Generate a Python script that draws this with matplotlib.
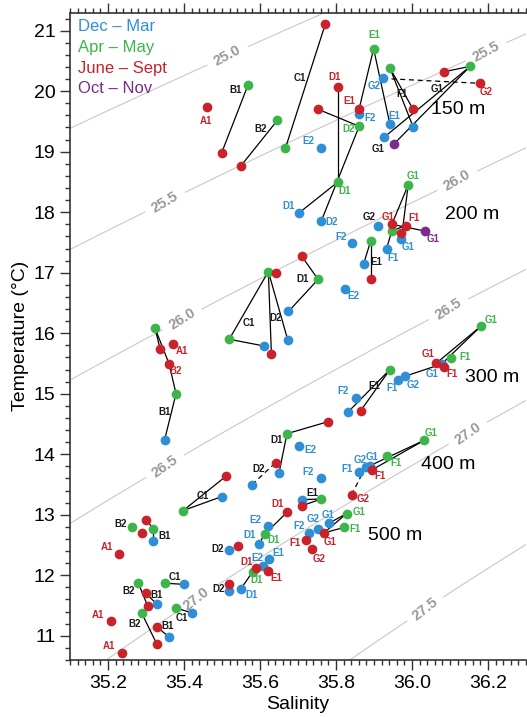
import numpy as np
import matplotlib
matplotlib.use("Agg")
from matplotlib import pyplot as plt
from matplotlib.ticker import MultipleLocator

plt.rcParams['font.family'] = ['Liberation Sans', 'DejaVu Sans']

# ---- data: Dec - Mar (blue)
dm_id = ["E2_150", "F2_150", "E1_150", "G2_150", "F1_150", "G1_150",
         "D1_200", "D2_200", "G2_200", "G1_200", "F1_200", "F2_200", "E1_200",
         "D1_200b", "E2_200", "D2_200b", "C1_200",
         "B1_300", "G1_300", "G2_300", "F1_300", "E1_300", "F2_300", "D1_300",
         "D2_300", "E2_300",
         "C1_400", "F2_400", "E1_400", "F1_400", "G2_400", "G1_400", "B1_400",
         "E2_500", "D1_500", "D2_500", "F2_500", "G2_500", "G1_500", "E1_500b",
         "E2_500b", "D1_500b", "D2_500b", "C1_500", "B1_500", "C1_500b", "B1_500b"]
dm_S = [35.761, 35.861, 35.942, 35.923, 36.003, 35.927,
        35.703, 35.761, 35.910, 35.972, 35.933, 35.841, 35.873,
        35.675, 35.823, 35.673, 35.610,
        35.349, 36.078, 35.982, 35.964, 35.832, 35.852, 35.650,
        35.579, 35.702,
        35.499, 35.761, 35.710, 35.861, 35.878, 35.889, 35.319,
        35.622, 35.597, 35.519, 35.729, 35.753, 35.781, 35.623,
        35.609, 35.550, 35.519, 35.399, 35.329, 35.420, 35.361]
dm_T = [19.06, 19.63, 19.45, 20.21, 19.41, 19.24,
        17.99, 17.85, 17.78, 17.56, 17.40, 17.49, 17.15,
        16.36, 16.73, 15.89, 15.79,
        14.24, 15.49, 15.29, 15.22, 14.70, 14.93, 13.69,
        13.50, 14.14,
        13.30, 13.61, 13.25, 13.71, 13.79, 13.81, 12.56,
        12.81, 12.51, 12.42, 12.70, 12.77, 12.86, 12.275,
        12.16, 11.78, 11.74, 11.85, 11.52, 11.38, 10.98]

# ---- data: Apr - May (green)
am_id = ["B1_150", "B2_150", "C1_150", "E1_150", "D2_150", "F1_150", "G1_150",
         "D1_200", "G1_200", "F1_200", "E1_200", "D1_200b", "CD_200", "C1_200",
         "A1_300", "B1_300", "G1_300", "F1_300", "E1_300", "D1_300",
         "C1_400", "E1_400", "G1_400", "F1_400", "B2_400", "B1_400",
         "D1_500", "G1_500", "F1_500", "D1_500b", "C1_500", "B2_500",
         "C1_500b", "B2_500b"]
am_S = [35.569, 35.646, 35.667, 35.899, 35.861, 35.942, 36.153,
        35.805, 35.990, 35.947, 35.891, 35.753, 35.622, 35.519,
        35.324, 35.379, 36.182, 36.102, 35.942, 35.671,
        35.398, 35.761, 36.032, 35.933, 35.263, 35.319,
        35.612, 35.828, 35.821, 35.581, 35.349, 35.279,
        35.379, 35.289]
am_T = [20.11, 19.52, 19.06, 20.70, 19.42, 20.38, 20.41,
        18.50, 18.45, 17.69, 17.52, 16.89, 17.02, 15.90,
        16.08, 15.00, 16.12, 15.585, 15.40, 14.34,
        13.07, 13.26, 14.23, 13.97, 12.80, 12.77,
        12.68, 13.02, 12.79, 12.06, 11.87, 11.88,
        11.46, 11.37]

# ---- data: June - Sept (red)
js_id = ["A1_150", "B1_150", "B2_150", "C1_150", "D1_150", "E1_150", "D2_150",
         "G2_150", "G1_150", "F1_150",
         "G1_200", "F1_200", "G1_200b", "E1_200", "D1_200", "CD_200", "D2_200",
         "A1_300b", "A1_300", "B2_300", "G1_300", "F1_300", "E1_300", "D1_300",
         "D1_300b",
         "C1_400", "E1_400", "F1_400", "G2_400", "B2_400", "B2_400b", "A1_400",
         "D1_500", "D2_500", "G1_500", "F1_500", "G2_500", "D1_500b", "E1_500",
         "D2_500b", "B2_500", "B2_500b", "A1_500", "B2_500c", "B2_500d", "A1_500b"]
js_S = [35.461, 35.499, 35.549, 35.772, 35.805, 35.861, 35.753,
        36.178, 36.083, 36.003,
        35.947, 35.983, 35.972, 35.891, 35.710, 35.641, 35.630,
        35.337, 35.370, 35.361, 36.063, 36.083, 35.865, 35.780,
        35.641,
        35.511, 35.711, 35.894, 35.841, 35.300, 35.289, 35.229,
        35.672, 35.541, 35.768, 35.722, 35.736, 35.590, 35.622,
        35.519, 35.300, 35.304, 35.207, 35.328, 35.328, 35.238]
js_T = [19.74, 18.98, 18.76, 21.11, 20.07, 19.71, 19.70,
        20.13, 20.32, 19.70,
        17.80, 17.78, 17.65, 16.89, 17.27, 16.99, 15.66,
        15.74, 15.82, 15.49, 15.50, 15.45, 14.72, 14.54,
        13.86,
        13.64, 13.15, 13.74, 13.33, 12.92, 12.70, 12.35,
        13.045, 12.49, 12.70, 12.58, 12.44, 12.12, 12.07,
        11.86, 11.70, 11.50, 11.25, 11.15, 10.87, 10.72]

# ---- data: Oct - Nov (purple)
on_id = ["G1_150", "G1_200"]
on_S = [35.953, 36.033]
on_T = [19.13, 17.69]

# ---- connections between seasons (season+id, season+id, dashed)
links = [("am:B1_150", "js:B1_150", 0), ("am:B2_150", "js:B2_150", 0),
         ("am:C1_150", "js:C1_150", 0), ("js:D1_150", "am:D1_200", 0),
         ("js:D2_150", "am:D2_150", 0), ("am:D2_150", "dm:D2_200", 0),
         ("am:E1_150", "js:E1_150", 0), ("am:E1_150", "dm:E1_150", 0),
         ("am:F1_150", "js:F1_150", 0), ("am:F1_150", "dm:F1_150", 0),
         ("js:G1_150", "am:G1_150", 0), ("am:G1_150", "dm:G1_150", 0),
         ("am:G1_150", "on:G1_150", 0), ("dm:G2_150", "js:G2_150", 1),
         ("am:D1_200", "dm:D1_200", 0),
         ("js:D1_200", "am:D1_200b", 0), ("am:D1_200b", "dm:D1_200b", 0),
         ("am:CD_200", "am:C1_200", 0), ("am:C1_200", "dm:C1_200", 0),
         ("am:CD_200", "js:D2_200", 0), ("am:CD_200", "dm:D2_200b", 0),
         ("am:E1_200", "dm:E1_200", 0), ("am:E1_200", "js:E1_200", 0),
         ("am:G1_200", "js:G1_200", 0), ("am:G1_200", "dm:G1_200", 0),
         ("js:G1_200", "on:G1_200", 0), ("am:F1_200", "dm:F1_200", 0),
         ("am:F1_200", "js:F1_200", 0),
         ("am:A1_300", "js:A1_300b", 0), ("am:A1_300", "js:B2_300", 0),
         ("js:B2_300", "am:B1_300", 0), ("am:B1_300", "dm:B1_300", 0),
         ("js:D1_300", "am:D1_300", 0), ("am:D1_300", "dm:D1_300", 0),
         ("dm:D2_300", "js:D1_300b", 1),
         ("am:E1_300", "dm:E1_300", 0), ("am:E1_300", "js:E1_300", 0),
         ("am:G1_300", "js:G1_300", 0), ("am:G1_300", "dm:G1_300", 0),
         ("dm:G1_300", "dm:G2_300", 0),
         ("am:C1_400", "js:C1_400", 0), ("am:C1_400", "dm:C1_400", 0),
         ("am:E1_400", "dm:E1_400", 0), ("am:E1_400", "js:E1_400", 0),
         ("am:G1_400", "dm:G1_400", 0), ("am:G1_400", "js:F1_400", 0),
         ("js:G2_400", "dm:G2_400", 1),
         ("js:B2_400", "am:B1_400", 0), ("am:B1_400", "dm:B1_400", 0),
         ("js:D1_500", "am:D1_500", 0), ("am:D1_500", "dm:D1_500", 0),
         ("am:G1_500", "dm:G1_500", 0), ("am:G1_500", "js:G1_500", 0),
         ("am:F1_500", "js:G1_500", 0),
         ("am:D1_500b", "dm:D1_500b", 0), ("am:C1_500", "dm:C1_500", 0),
         ("am:B2_500", "js:B2_500b", 0), ("js:B2_500", "dm:B1_500", 0),
         ("am:C1_500b", "dm:C1_500b", 0), ("am:B2_500b", "js:B2_500d", 0),
         ("js:B2_500c", "dm:B1_500b", 0)]

# ---- station tags (text, salinity, temperature, colour key)
tags = [("A1", 35.458, 19.50, "js"), ("B1", 35.537, 20.02, "k"), ("B2", 35.601, 19.38, "k"),
        ("C1", 35.706, 20.21, "k"), ("D1", 35.795, 20.24, "js"), ("E1", 35.900, 20.92, "am"),
        ("E1", 35.836, 19.83, "js"), ("E1", 35.953, 19.59, "dm"), ("F2", 35.889, 19.55, "dm"),
        ("D2", 35.832, 19.38, "am"), ("E2", 35.728, 19.17, "dm"), ("G2", 35.900, 20.08, "dm"),
        ("F1", 35.973, 19.96, "k"), ("G2", 36.196, 19.98, "js"), ("G1", 36.067, 20.04, "k"),
        ("G1", 35.911, 19.04, "k"),
        ("D1", 35.823, 18.35, "am"), ("D1", 35.676, 18.11, "dm"), ("D2", 35.788, 17.84, "dm"),
        ("G1", 36.004, 18.60, "am"), ("G2", 35.887, 17.92, "k"), ("G1", 35.938, 17.92, "js"),
        ("F1", 36.006, 17.91, "js"), ("G1", 35.989, 17.43, "dm"), ("G1", 36.055, 17.56, "on"),
        ("F1", 35.949, 17.25, "dm"), ("F2", 35.814, 17.59, "dm"), ("E1", 35.905, 17.17, "k"),
        ("D1", 35.713, 16.90, "k"), ("E2", 35.847, 16.62, "dm"), ("C1", 35.570, 16.17, "k"),
        ("D2", 35.641, 16.25, "k"),
        ("A1", 35.395, 15.71, "js"), ("B2", 35.379, 15.38, "js"), ("B1", 35.348, 14.70, "k"),
        ("G1", 36.208, 16.22, "am"), ("F1", 36.140, 15.60, "am"), ("G1", 36.043, 15.66, "js"),
        ("G1", 36.052, 15.33, "dm"), ("F1", 36.105, 15.33, "js"), ("G2", 36.004, 15.15, "dm"),
        ("F1", 35.947, 15.10, "dm"), ("E1", 35.901, 15.12, "k"), ("F2", 35.819, 15.04, "dm"),
        ("D1", 35.643, 14.24, "k"), ("E2", 35.733, 14.07, "dm"), ("D2", 35.597, 13.75, "k"),
        ("C1", 35.449, 13.31, "k"), ("F2", 35.726, 13.71, "dm"), ("E1", 35.737, 13.36, "k"),
        ("G2", 35.863, 13.91, "dm"), ("G1", 35.894, 13.96, "dm"), ("F1", 35.828, 13.76, "dm"),
        ("F1", 35.916, 13.64, "js"), ("G1", 36.049, 14.35, "am"), ("F1", 35.958, 13.86, "am"),
        ("G2", 35.872, 13.26, "js"), ("B2", 35.234, 12.84, "k"), ("B1", 35.348, 12.65, "k"),
        ("A1", 35.197, 12.47, "js"),
        ("D1", 35.647, 13.17, "js"), ("E2", 35.588, 12.92, "dm"), ("D1", 35.637, 12.59, "am"),
        ("D1", 35.572, 12.66, "dm"), ("D2", 35.489, 12.43, "k"), ("F2", 35.703, 12.81, "dm"),
        ("G2", 35.739, 12.93, "dm"), ("G1", 35.779, 13.00, "dm"), ("G1", 35.861, 13.04, "am"),
        ("F1", 35.850, 12.77, "am"), ("G1", 35.785, 12.55, "js"), ("F1", 35.691, 12.54, "js"),
        ("G2", 35.755, 12.27, "js"), ("E2", 35.594, 12.29, "dm"), ("E1", 35.649, 12.36, "dm"),
        ("D1", 35.564, 12.22, "js"), ("D1", 35.592, 11.92, "am"), ("E1", 35.643, 11.95, "js"),
        ("D1", 35.577, 11.68, "dm"), ("D2", 35.491, 11.78, "k"), ("C1", 35.376, 11.97, "k"),
        ("B2", 35.255, 11.74, "k"), ("B1", 35.329, 11.67, "k"), ("C1", 35.395, 11.30, "k"),
        ("A1", 35.174, 11.35, "js"), ("B2", 35.271, 11.19, "k"), ("B1", 35.357, 11.16, "k"),
        ("A1", 35.203, 10.83, "js")]

depth_text = ["150 m", "200 m", "300 m", "400 m", "500 m"]
depth_S = [36.122, 36.158, 36.211, 36.096, 35.955]
depth_T = [19.70, 17.97, 15.27, 13.83, 12.66]

sigma_levels = [25.0, 25.5, 26.0, 26.5, 27.0, 27.5]
sigma_label_pos = [(35.511, 20.62), (36.197, 20.63), (35.351, 18.16), (36.122, 18.49),
                   (35.395, 16.23), (36.096, 16.40), (35.353, 13.78), (36.153, 14.30),
                   (35.430, 11.62), (36.034, 11.45)]

seasons = ["Dec \u2013 Mar", "Apr \u2013 May", "June \u2013 Sept", "Oct \u2013 Nov"]

colors = {"dm": "#2e8fd6", "am": "#3cb54a", "js": "#c9222b", "on": "#7a2b8c", "k": "#1a1a1a"}


def sigma_t(S, T):
    # UNESCO 1981 equation of state at the surface
    rw = (999.842594 + 6.793952e-2 * T - 9.095290e-3 * T**2 + 1.001685e-4 * T**3
          - 1.120083e-6 * T**4 + 6.536332e-9 * T**5)
    A = 8.24493e-1 - 4.0899e-3 * T + 7.6438e-5 * T**2 - 8.2467e-7 * T**3 + 5.3875e-9 * T**4
    B = -5.72466e-3 + 1.0227e-4 * T - 1.6546e-6 * T**2
    C = 4.8314e-4
    return rw + A * S + B * S**1.5 + C * S**2 - 1000.0


fig = plt.figure(figsize=(5.27, 7.17), dpi=100)
ax = fig.add_axes([70 / 527, 1 - 660 / 717, 456 / 527, 647.5 / 717])

ss, tt = np.meshgrid(np.linspace(34.9, 36.5, 300), np.linspace(10.0, 22.0, 300))
cs = ax.contour(ss, tt, sigma_t(ss, tt), levels=sigma_levels, colors="#c8c8c8",
                linewidths=0.8, zorder=1)
lbls = ax.clabel(cs, manual=sigma_label_pos, fmt="%.1f", fontsize=10.5,
                 colors="#999999", inline=True, inline_spacing=3)
for t in lbls:
    t.set_fontweight("bold")

pts = {}
for key, ids, S, T in [("dm", dm_id, dm_S, dm_T), ("am", am_id, am_S, am_T),
                       ("js", js_id, js_S, js_T), ("on", on_id, on_S, on_T)]:
    for i, s, t in zip(ids, S, T):
        pts[key + ":" + i] = (s, t)

for a, b, dashed in links:
    xa, ya = pts[a]
    xb, yb = pts[b]
    ax.plot([xa, xb], [ya, yb], color="black", lw=0.9,
            ls=(0, (4, 3)) if dashed else "-", zorder=2)

for key, S, T in [("dm", dm_S, dm_T), ("am", am_S, am_T), ("js", js_S, js_T), ("on", on_S, on_T)]:
    ax.plot(S, T, "o", color=colors[key], ms=7, mec="none", zorder=3)

for txt, s, t, c in tags:
    ax.text(s, t, txt, color=colors[c], fontsize=7, fontweight="bold",
            ha="center", va="center", zorder=4)

for txt, s, t in zip(depth_text, depth_S, depth_T):
    ax.text(s, t, txt, fontsize=14, ha="center", va="center", zorder=4)

for i, (lab, key) in enumerate(zip(seasons, ["dm", "am", "js", "on"])):
    ax.text(0.018, 0.978 - i * 0.032, lab, color=colors[key], fontsize=12,
            transform=ax.transAxes, ha="left", va="center")

ax.set_xlim(35.1, 36.3)
ax.set_ylim(10.6, 21.3)
ax.xaxis.set_major_locator(MultipleLocator(0.2))
ax.xaxis.set_minor_locator(MultipleLocator(0.02))
ax.yaxis.set_major_locator(MultipleLocator(1))
ax.yaxis.set_minor_locator(MultipleLocator(0.2))
ax.tick_params(which="both", direction="out", top=True, right=False, width=1, color="#333333")
ax.tick_params(which="major", length=7, labelsize=14)
ax.tick_params(which="minor", length=3.5)
for sp in ax.spines.values():
    sp.set_linewidth(1.2)
    sp.set_color("#333333")
ax.spines["right"].set_visible(False)

ax.set_xlabel("Salinity", fontsize=14)
ax.set_ylabel("Temperature (\u00b0C)", fontsize=14)
ax.xaxis.set_label_coords(0.5, -0.055)
ax.yaxis.set_label_coords(-0.09, 0.5)

fig.savefig("out.png", dpi=100)
